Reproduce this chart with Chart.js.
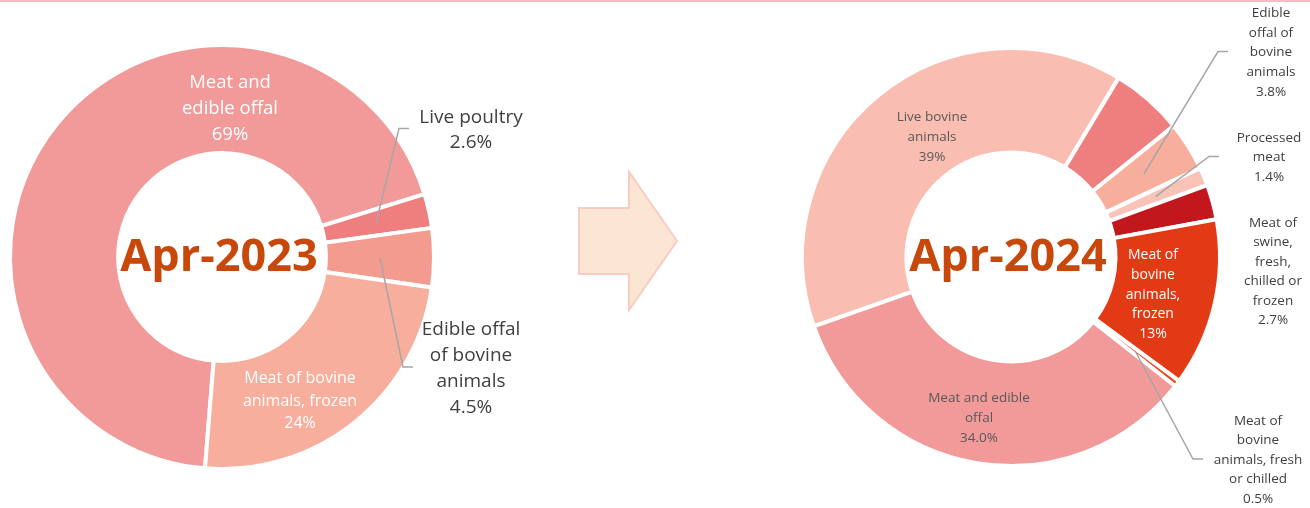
<!DOCTYPE html>
<html>
<head>
<meta charset="utf-8">
<script src="https://cdn.jsdelivr.net/npm/chart.js@4.4.1/dist/chart.umd.min.js"></script>
<style>
  body { margin: 0; background: #ffffff; width: 1310px; height: 508px; overflow: hidden; position: relative; }
  #topline { position: absolute; left: 0; top: 0; width: 1310px; height: 2px; background: #F6BDC2; }
  #arrow { position: absolute; left: 0; top: 0; }
  #chart_2023 { position: absolute; left: 0; top: 0; }
  #chart_2024 { position: absolute; left: 700px; top: 0; }
</style>
</head>
<body>
<div id="topline"></div>
<svg id="arrow" width="1310" height="508">
  <polygon points="579,208 629,208 629,172 677,241 629,310 629,274 579,274" fill="#FBE6D3" stroke="#F9CBC5" stroke-width="2"/>
</svg>
<canvas id="chart_2023" width="560" height="508"></canvas>
<canvas id="chart_2024" width="610" height="508"></canvas>
<script>
const chart2023 = document.getElementById("chart_2023");
const chart2024 = document.getElementById("chart_2024");

// Apr-2023 shares (%)
const categories2023 = ["Meat and edible offal", "Live poultry", "Edible offal of bovine animals", "Meat of bovine animals, frozen"];
const wraps2023 = [["Meat and", "edible offal"], ["Live poultry"], ["Edible offal", "of bovine", "animals"], ["Meat of bovine", "animals, frozen"]];
const shares2023 = [69, 2.6, 4.5, 24];
const decimals2023 = [0, 1, 1, 0];

// Apr-2024 shares (%)
const categories2024 = ["Live bovine animals", "Live poultry", "Edible offal of bovine animals", "Processed meat",
  "Meat of swine, fresh, chilled or frozen", "Meat of bovine animals, frozen", "Meat of bovine animals, fresh or chilled", "Meat and edible offal"];
const wraps2024 = [["Live bovine", "animals"], ["Live poultry"], ["Edible", "offal of", "bovine", "animals"], ["Processed", "meat"],
  ["Meat of", "swine,", "fresh,", "chilled or", "frozen"], ["Meat of", "bovine", "animals,", "frozen"], ["Meat of", "bovine", "animals, fresh", "or chilled"], ["Meat and edible", "offal"]];
const shares2024 = [39, 5.6, 3.8, 1.4, 2.7, 13, 0.5, 34.0];
const decimals2024 = [0, 1, 1, 1, 1, 0, 1, 1];

// label spots, px from the doughnut centre; leader = gap from label centre to the hook end
const places2023 = [
  { dx: 8, dy: -150, size: 18.5, lh: 26, color: "#ffffff" },
  { dx: 249, dy: -128.5, size: 19, lh: 25, color: "#404040", leader: 62 },
  { dx: 249, dy: 110, size: 19, lh: 26, color: "#404040", leader: 58 },
  { dx: 78, dy: 143, size: 16, lh: 22.5, color: "#ffffff" },
];
const places2024 = [
  { dx: -79, dy: -121, size: 13.5, lh: 19.7, color: "#595959" },
  null,
  { dx: 260, dy: -205.5, size: 13.5, lh: 19.7, color: "#404040", leader: 43 },
  { dx: 258, dy: -100.5, size: 13.5, lh: 19.7, color: "#404040", leader: 50 },
  { dx: 262, dy: 13.5, size: 13.5, lh: 19.5, color: "#404040" },
  { dx: 142, dy: 36.5, size: 14, lh: 19.7, color: "#ffffff" },
  { dx: 247, dy: 202, size: 13.5, lh: 19.5, color: "#404040", leader: 55 },
  { dx: -32, dy: 160, size: 13.5, lh: 20, color: "#595959" },
];

const sliceLabels = {
  id: "sliceLabels",
  afterDatasetsDraw(chart, args, opts) {
    const ctx = chart.ctx;
    const arcs = chart.getDatasetMeta(0).data;
    const values = chart.data.datasets[0].data;
    const cx = arcs[0].x;
    const cy = arcs[0].y;
    ctx.save();
    ctx.textAlign = "center";
    ctx.textBaseline = "alphabetic";
    ctx.font = "bold 45px 'Open Sans'";
    ctx.fillStyle = "#C8470A";
    ctx.fillText(opts.title, cx - 3, cy + 14);

    opts.places.forEach((p, i) => {
      if (!p) return;
      const x = cx + p.dx;
      const y = cy + p.dy;
      if (p.leader) {
        const a = arcs[i].tooltipPosition();
        const endX = x - p.leader;
        ctx.beginPath();
        ctx.moveTo(a.x, a.y);
        ctx.lineTo(endX - 10, y);
        ctx.lineTo(endX, y);
        ctx.strokeStyle = "#A6A6A6";
        ctx.lineWidth = 1.5;
        ctx.stroke();
      }
      const lines = opts.wraps[i].concat(values[i].toFixed(opts.decimals[i]) + "%");
      ctx.font = p.size + "px 'Open Sans'";
      ctx.fillStyle = p.color;
      const top = y - (lines.length - 1) * p.lh / 2;
      lines.forEach((t, k) => ctx.fillText(t, x, top + k * p.lh + p.size * 0.36));
    });
    ctx.restore();
  },
};

function drawDoughnut(canvas, labels, values, colors, rotation, radius, cutout, padding, labelOpts) {
  new Chart(canvas, {
    type: "doughnut",
    data: {
      labels: labels,
      datasets: [
        {
          data: values,
          backgroundColor: colors,
          borderColor: "#ffffff",
          borderWidth: 4,
        },
      ],
    },
    options: {
      responsive: false,
      animation: false,
      devicePixelRatio: 1,
      rotation: rotation,
      radius: radius,
      cutout: cutout,
      layout: { padding: padding },
      plugins: {
        legend: { display: false },
        tooltip: { enabled: false },
        sliceLabels: labelOpts,
      },
    },
    plugins: [sliceLabels],
  });
}

drawDoughnut(chart2023, categories2023, shares2023,
  ["#F29A99", "#EF7E7E", "#F39B8F", "#F8AE9D"], 184.6, 212, "49%",
  { left: 0, right: 116, top: 6, bottom: 0 },
  { title: "Apr-2023", places: places2023, wraps: wraps2023, decimals: decimals2023 });

drawDoughnut(chart2024, categories2024, shares2024,
  ["#F9BDB1", "#EF7E7E", "#F8AE9D", "#FAC3B7", "#C2171C", "#E23A14", "#F0461F", "#F29A99"], 250.6, 209, "50%",
  { left: 12, right: 0, top: 6, bottom: 0 },
  { title: "Apr-2024", places: places2024, wraps: wraps2024, decimals: decimals2024 });
</script>
</body>
</html>
